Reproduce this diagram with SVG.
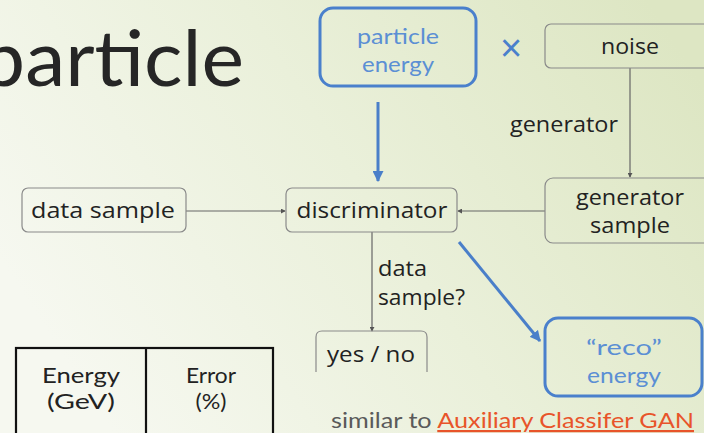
<svg xmlns="http://www.w3.org/2000/svg" width="704" height="433" viewBox="0 0 704 433">
<defs>
<linearGradient id="bg" x1="0" y1="0.6" x2="1" y2="0.2">
<stop offset="0" stop-color="#f6f8f0"/>
<stop offset="0.5" stop-color="#eaf0da"/>
<stop offset="1" stop-color="#dde6c3"/>
</linearGradient>
<marker id="ah" viewBox="0 0 6 6" refX="5" refY="3" markerWidth="5" markerHeight="5" orient="auto" markerUnits="userSpaceOnUse">
<path d="M0,0 L6,3 L0,6 z" fill="#555"/>
</marker>
<marker id="bh" viewBox="0 0 10 10" refX="9" refY="5" markerWidth="11" markerHeight="11" orient="auto" markerUnits="userSpaceOnUse">
<path d="M0,0 L10,5 L0,10 z" fill="#4a7fc9"/>
</marker>
<style>
.box{fill:none;stroke:#8a8a8a;stroke-width:1.2}
.bbox{fill:none;stroke:#4a80cc;stroke-width:3}
.t{font-family:"Open Sans","Noto Sans",sans-serif;font-size:22px;fill:#222;text-anchor:middle}
.tl{font-family:"Open Sans","Noto Sans",sans-serif;font-size:22px;fill:#222}
.bt{font-family:"Lato","Liberation Sans",sans-serif;font-size:22px;fill:#5b8fd4;text-anchor:middle}
.g{font-family:"Lato","Liberation Sans",sans-serif;font-size:22px;fill:#222;text-anchor:middle}
.c{stroke:#666;stroke-width:1.2;fill:none}
.bc{stroke:#4a7fc9;stroke-width:3;fill:none}
</style>
</defs>
<rect width="704" height="433" fill="url(#bg)"/>
<text x="-20" y="86" font-family="Lato,'Liberation Sans',sans-serif" font-size="78" fill="#262626" textLength="264" lengthAdjust="spacingAndGlyphs">particle</text>

<g id="connectors">
<line class="c" x1="186" y1="211" x2="285" y2="211" marker-end="url(#ah)"/>
<line class="c" x1="545" y1="211" x2="458" y2="211" marker-end="url(#ah)"/>
<line class="c" x1="630" y1="68" x2="630" y2="177" marker-end="url(#ah)"/>
<line class="c" x1="372" y1="232" x2="372" y2="331" marker-end="url(#ah)"/>
<line class="bc" x1="378" y1="102" x2="378" y2="181" marker-end="url(#bh)"/>
<line class="bc" x1="459" y1="242" x2="540" y2="341" marker-end="url(#bh)"/>
<text class="tl" x="510" y="132" textLength="108" lengthAdjust="spacingAndGlyphs">generator</text>
<text class="tl" x="378" y="276" textLength="49" lengthAdjust="spacingAndGlyphs">data</text>
<text class="tl" x="378" y="305" textLength="87" lengthAdjust="spacingAndGlyphs">sample?</text>
</g>

<g id="particle-energy">
<rect class="bbox" x="320" y="8" width="156" height="78" rx="13"/>
<text class="bt" x="398" y="44" textLength="82" lengthAdjust="spacingAndGlyphs">particle</text>
<text class="bt" x="398" y="72" textLength="72" lengthAdjust="spacingAndGlyphs">energy</text>
</g>
<g id="times">
<text x="511" y="61" font-family="'Liberation Sans',sans-serif" font-size="38" fill="#4a80cc" text-anchor="middle">×</text>
</g>
<g id="noise">
<rect class="box" x="545" y="24" width="175" height="44" rx="6"/>
<text class="t" x="630" y="54" textLength="58" lengthAdjust="spacingAndGlyphs">noise</text>
</g>
<g id="generator-sample">
<rect class="box" x="545" y="178" width="175" height="65" rx="8"/>
<text class="t" x="630" y="205" textLength="108" lengthAdjust="spacingAndGlyphs">generator</text>
<text class="t" x="630" y="233" textLength="80" lengthAdjust="spacingAndGlyphs">sample</text>
</g>
<g id="data-sample">
<rect class="box" x="22" y="188" width="164" height="44" rx="6"/>
<text class="t" x="103" y="218" textLength="144" lengthAdjust="spacingAndGlyphs">data sample</text>
</g>
<g id="discriminator">
<rect class="box" x="286" y="188" width="171" height="44" rx="6"/>
<text class="t" x="372" y="218" textLength="151" lengthAdjust="spacingAndGlyphs">discriminator</text>
</g>
<g id="yes-no">
<path class="box" d="M316,372 L316,337 Q316,331 322,331 L421,331 Q427,331 427,337 L427,372"/>
<text class="t" x="371" y="362" textLength="88" lengthAdjust="spacingAndGlyphs">yes / no</text>
</g>
<g id="reco-energy">
<rect class="bbox" x="545" y="318" width="157" height="78" rx="13"/>
<text class="bt" x="624" y="355" textLength="76" lengthAdjust="spacingAndGlyphs">“reco”</text>
<text class="bt" x="624" y="383" textLength="74" lengthAdjust="spacingAndGlyphs">energy</text>
</g>

<g id="footnote">
<text x="331" y="428" font-family="Lato,'Liberation Sans',sans-serif" font-size="22" fill="#5a5a5a" textLength="363" lengthAdjust="spacingAndGlyphs">similar to <tspan fill="#e8542a" text-decoration="underline">Auxiliary Classifer GAN</tspan></text>
</g>

<g id="table">
<rect x="16" y="348" width="257" height="100" fill="none" stroke="#111" stroke-width="2.2"/>
<line x1="146" y1="348" x2="146" y2="433" stroke="#111" stroke-width="2.2"/>
<text class="g" x="81" y="383" textLength="78" lengthAdjust="spacingAndGlyphs">Energy</text>
<text class="g" x="81" y="409" textLength="68" lengthAdjust="spacingAndGlyphs">(GeV)</text>
<text class="g" x="211" y="383" textLength="50" lengthAdjust="spacingAndGlyphs">Error</text>
<text class="g" x="211" y="409" textLength="31" lengthAdjust="spacingAndGlyphs">(%)</text>
</g>
</svg>
